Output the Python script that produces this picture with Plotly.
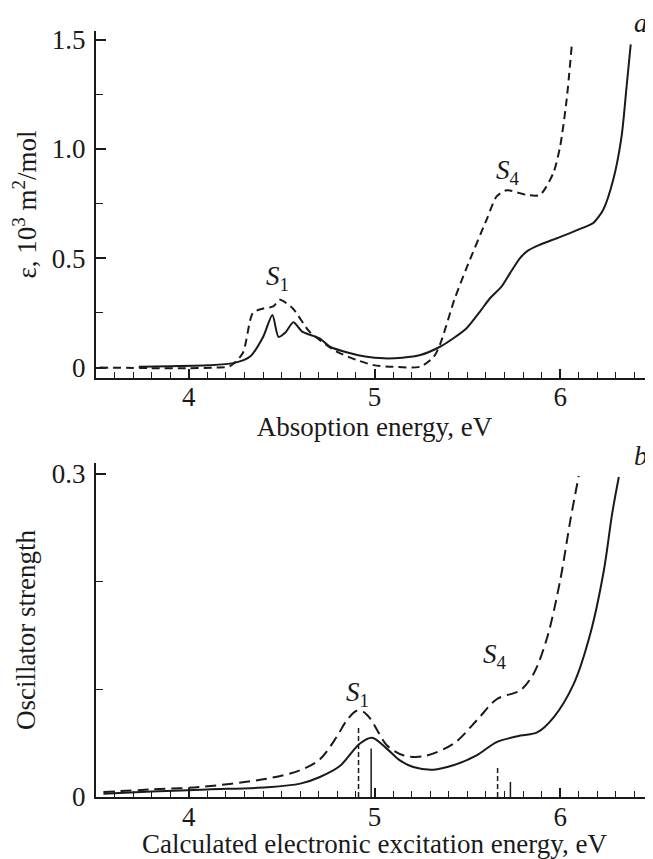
import plotly.graph_objects as go

# Panel a: measured absorption (solid) and second spectrum (dashed)
a_solid_x = [3.73, 3.9, 4.1, 4.24, 4.33, 4.40, 4.45, 4.483, 4.52, 4.563, 4.61, 4.67, 4.71, 4.76, 4.87, 4.95,
             5.05, 5.15, 5.247, 5.353, 5.425, 5.496, 5.568, 5.622, 5.685, 5.73, 5.784, 5.828, 5.891, 5.998,
             6.141, 6.178, 6.232, 6.286, 6.331, 6.358, 6.38]
a_solid_y = [0.003, 0.006, 0.01, 0.02, 0.05, 0.14, 0.24, 0.14, 0.16, 0.207, 0.164, 0.145, 0.13, 0.095, 0.065, 0.05,
             0.042, 0.045, 0.057, 0.095, 0.134, 0.18, 0.256, 0.317, 0.371, 0.432, 0.501, 0.536, 0.562, 0.597,
             0.646, 0.661, 0.722, 0.86, 1.059, 1.288, 1.479]
a_dash_x = [3.52, 3.8, 4.0, 4.15, 4.22, 4.29, 4.345, 4.40, 4.455, 4.49, 4.56, 4.65, 4.78, 4.815, 4.905, 4.995,
            5.1, 5.247, 5.32, 5.355, 5.43, 5.496, 5.604, 5.658, 5.711, 5.82, 5.891, 5.963, 6.0, 6.035, 6.062]
a_dash_y = [0.0, -0.003, -0.003, 0.0, 0.005, 0.065, 0.25, 0.27, 0.28, 0.31, 0.27, 0.164, 0.08, 0.065, 0.034, 0.011,
            0.003, 0.004, 0.05, 0.11, 0.31, 0.456, 0.677, 0.783, 0.811, 0.79, 0.79, 0.89, 1.013, 1.227, 1.47]

# Panel b: calculated spectra
b_solid_x = [3.54, 3.8, 4.1, 4.42, 4.6, 4.706, 4.815, 4.92, 4.986, 5.066, 5.137, 5.209, 5.317, 5.424, 5.55, 5.658,
             5.786, 5.876, 5.965, 6.073, 6.163, 6.235, 6.28, 6.316]
b_solid_y = [0.003, 0.005, 0.007, 0.009, 0.0124, 0.0186, 0.029, 0.0495, 0.055, 0.0449, 0.034, 0.0278, 0.0254, 0.0294,
             0.0387, 0.051, 0.057, 0.060, 0.074, 0.105, 0.152, 0.21, 0.263, 0.297]
b_dash_x = [3.54, 3.8, 4.06, 4.419, 4.599, 4.706, 4.796, 4.85, 4.904, 4.94, 4.976, 5.021, 5.066, 5.155, 5.265,
            5.426, 5.55, 5.66, 5.785, 5.857, 5.93, 6.0, 6.055, 6.1]
b_dash_y = [0.0046, 0.007, 0.0093, 0.017, 0.0248, 0.035, 0.0557, 0.071, 0.080, 0.079, 0.073, 0.060, 0.048, 0.0387,
            0.0378, 0.0495, 0.071, 0.091, 0.099, 0.1145, 0.148, 0.201, 0.257, 0.298]

# Oscillator-strength sticks
stick_solid_x = [4.982, 5.732]
stick_solid_f = [0.045, 0.014]
stick_dash_x = [4.914, 5.663]
stick_dash_f = [0.0665, 0.029]

x_ticks = [4, 5, 6]
a_yticks = [0, 0.5, 1.0, 1.5]
a_yticklabels = ["0", "0.5", "1.0", "1.5"]
b_yticks = [0, 0.3]
b_yticklabels = ["0", "0.3"]

INK = "#1a1a1a"
FONT = "Liberation Serif"
FS = 27


def sticks(xs, hs):
    sx, sy = [], []
    for x, h in zip(xs, hs):
        sx += [x, x, None]
        sy += [0, h, None]
    return sx, sy


fig = go.Figure()
line_solid = dict(color=INK, width=2)

fig.add_trace(go.Scatter(x=a_dash_x, y=a_dash_y, mode="lines",
                         line=dict(color=INK, width=2, dash="8px,5px", shape="spline", smoothing=0.7),
                         xaxis="x", yaxis="y", showlegend=False))
fig.add_trace(go.Scatter(x=a_solid_x, y=a_solid_y, mode="lines", line=dict(**line_solid, shape="spline", smoothing=0.7),
                         xaxis="x", yaxis="y", showlegend=False))
fig.add_trace(go.Scatter(x=b_dash_x, y=b_dash_y, mode="lines",
                         line=dict(color=INK, width=2, dash="11px,6px", shape="spline", smoothing=0.9),
                         xaxis="x2", yaxis="y2", showlegend=False))
fig.add_trace(go.Scatter(x=b_solid_x, y=b_solid_y, mode="lines", line=dict(**line_solid, shape="spline", smoothing=0.9),
                         xaxis="x2", yaxis="y2", showlegend=False))
sx, sy = sticks(stick_solid_x, stick_solid_f)
fig.add_trace(go.Scatter(x=sx, y=sy, mode="lines", line=dict(color=INK, width=1.5), xaxis="x2", yaxis="y2",
                         showlegend=False))
sx, sy = sticks(stick_dash_x, stick_dash_f)
fig.add_trace(go.Scatter(x=sx, y=sy, mode="lines", line=dict(color=INK, width=1.5, dash="5px,3px"), xaxis="x2",
                         yaxis="y2", showlegend=False))

tfont = dict(family=FONT, size=FS, color=INK)
xcommon = dict(range=[3.5, 6.5], tickvals=x_ticks, ticks="inside", ticklen=9, tickwidth=1.5, tickcolor=INK,
               showline=True, linewidth=2.2, linecolor=INK, showgrid=False, zeroline=False, ticklabelstandoff=-6,
               minor=dict(dtick=0.1, tick0=3.5, ticks="inside", ticklen=6, tickwidth=1.2, tickcolor=INK, showgrid=False),
               tickfont=tfont)
ycommon = dict(ticks="inside", ticklen=10, tickwidth=1.5, tickcolor=INK, showline=True, linewidth=2.2,
               linecolor=INK, showgrid=False, zeroline=False, ticklabelstandoff=3, tickfont=tfont)

fig.update_layout(
    width=645, height=851,
    margin=dict(l=88, r=0, t=23, b=62),
    paper_bgcolor="white", plot_bgcolor="white",
    font=tfont,
    xaxis=dict(**xcommon, domain=[0, 1], anchor="y",
               title=dict(text="Absoption energy, eV", standoff=0, font=tfont)),
    yaxis=dict(**ycommon, domain=[0.547, 1], anchor="x", range=[-0.048, 1.54],
               tickvals=a_yticks, ticktext=a_yticklabels,
               minor=dict(tickvals=[0.25, 0.75, 1.25], ticks="inside", ticklen=7, tickwidth=1.2, tickcolor=INK,
                          showgrid=False),
               title=dict(text="ε, 10<sup>3</sup> m<sup>2</sup>/mol", standoff=8, font=tfont)),
    xaxis2=dict(**xcommon, domain=[0, 1], anchor="y2",
                title=dict(text="Calculated electronic excitation energy, eV", standoff=0, font=tfont)),
    yaxis2=dict(**ycommon, domain=[0, 0.436], anchor="x2", range=[0, 0.31],
                tickvals=b_yticks, ticktext=b_yticklabels,
                minor=dict(tickvals=[0.1, 0.2], ticks="inside", ticklen=7, tickwidth=1.2, tickcolor=INK,
                           showgrid=False),
                title=dict(text="Oscillator strength", standoff=8, font=tfont)),
)

fig.add_annotation(x=4.48, y=0.41, xref="x", yref="y", text="<i>S</i><sub>1</sub>", showarrow=False, font=tfont)
fig.add_annotation(x=5.72, y=0.897, xref="x", yref="y", text="<i>S</i><sub>4</sub>", showarrow=False, font=tfont)
fig.add_annotation(x=4.91, y=0.096, xref="x2", yref="y2", text="<i>S</i><sub>1</sub>", showarrow=False, font=tfont)
fig.add_annotation(x=5.65, y=0.131, xref="x2", yref="y2", text="<i>S</i><sub>4</sub>", showarrow=False, font=tfont)
fig.add_annotation(x=1.0, y=1.0, xref="paper", yref="paper", xshift=-3, yshift=8, xanchor="right", yanchor="middle",
                   text="<i>a</i>", showarrow=False, font=tfont)
fig.add_annotation(x=1.0, y=0.436, xref="paper", yref="paper", xshift=-3, yshift=7, xanchor="right",
                   yanchor="middle", text="<i>b</i>", showarrow=False, font=tfont)

fig.write_html("out.html")
